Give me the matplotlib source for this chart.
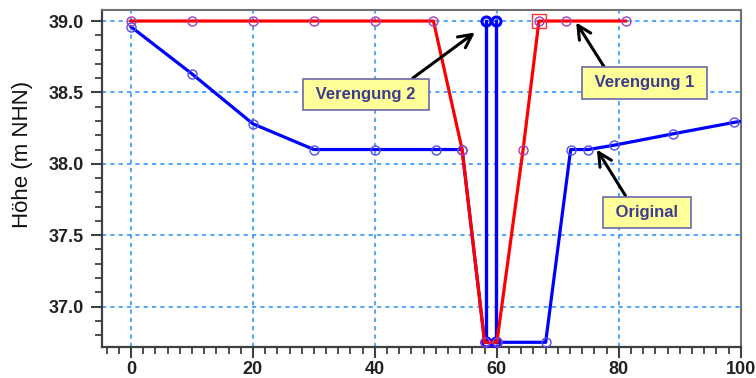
import matplotlib
matplotlib.use("Agg")
import matplotlib.pyplot as plt
from matplotlib.ticker import MultipleLocator, FormatStrFormatter

plt.rcParams['font.family'] = ['Liberation Sans', 'DejaVu Sans']

# Cross-section profiles: station (m) and elevation (m NHN)
orig_x = [0, 10, 20, 30, 40, 50, 54.3, 58.0, 60.0, 68.0, 72.1, 75.0, 79.2, 88.9, 98.9, 102.0]
orig_y = [38.96, 38.63, 38.28, 38.10, 38.10, 38.10, 38.10, 36.75, 36.75, 36.75, 38.10, 38.10, 38.13, 38.21, 38.29, 38.31]

slot_x = [58.3, 58.3, 59.8, 59.8]
slot_y = [39.0, 36.75, 36.75, 39.0]

ver1_x = [0, 10, 20, 30, 40, 49.6, 54.3, 58.0, 60.0, 64.3, 66.9, 71.3, 81.1]
ver1_y = [39.0, 39.0, 39.0, 39.0, 39.0, 39.0, 38.10, 36.75, 36.75, 38.10, 39.0, 39.0, 39.0]

sel_x = [66.9]
sel_y = [39.0]

# Annotation labels: text, arrow target, box centre, arrow attachment on the box
labels = ["Verengung 2", "Verengung 1", "Original"]
tips = [(56.4, 38.92), (73.0, 38.99), (76.4, 38.10)]
boxes = [(38.5, 38.485), (84.2, 38.566), (84.6, 37.66)]
relpos = [(0.82, 1.0), (0.18, 1.0), (0.28, 1.0)]

fig = plt.figure(figsize=(7.56, 3.78), dpi=100)
ax = fig.add_axes([0.1349, 0.082, 0.845, 0.8915])

ax.set_xlim(-4.75, 100)
ax.set_ylim(36.717, 39.077)

ax.xaxis.set_major_locator(MultipleLocator(20))
ax.xaxis.set_minor_locator(MultipleLocator(2))
ax.yaxis.set_major_locator(MultipleLocator(0.5))
ax.yaxis.set_minor_locator(MultipleLocator(0.1))
ax.yaxis.set_major_formatter(FormatStrFormatter('%.1f'))

ax.grid(True, which='major', color='#3399ff', linestyle=(0, (2.5, 2.5)), linewidth=1.2)
ax.set_axisbelow(True)

ax.tick_params(which='major', direction='out', length=8, width=1.5, color='#404040',
               labelsize=13, labelcolor='#222222', pad=5)
ax.tick_params(which='minor', direction='out', length=5, width=1.3, color='#404040')
ax.tick_params(axis='x', which='major', pad=2)
for lab in ax.get_xticklabels() + ax.get_yticklabels():
    lab.set_fontweight('bold')

for side in ['left', 'bottom']:
    ax.spines[side].set_color('#404040')
    ax.spines[side].set_linewidth(1.6)
for side in ['top', 'right']:
    ax.spines[side].set_color('#707070')
    ax.spines[side].set_linewidth(1.5)

ax.plot(orig_x, orig_y, color='#0000ff', linewidth=2.3, marker='o', markersize=6.5,
        markerfacecolor='none', markeredgecolor='#5050f0', markeredgewidth=1.0, zorder=3)
ax.plot(slot_x, slot_y, color='#0000ff', linewidth=2.4, marker='o', markersize=6.5,
        markerfacecolor='none', markeredgecolor='#0000ff', markeredgewidth=2.2, zorder=3)
ax.plot(ver1_x, ver1_y, color='#ff0000', linewidth=2.3, marker='o', markersize=6.5,
        markerfacecolor='none', markeredgecolor='#a040c0', markeredgewidth=1.0, zorder=4)
ax.plot(sel_x, sel_y, linestyle='none', marker='s', markersize=9.5,
        markerfacecolor='none', markeredgecolor='#ff3030', markeredgewidth=1.0, zorder=5)

ax.set_ylabel('Höhe (m NHN)', fontsize=16, color='#111111', va='center')
ax.yaxis.set_label_coords(-0.125, 0.57)

for text, tip, box, rp in zip(labels, tips, boxes, relpos):
    ax.annotate(' ' + text + ' ', xy=tip, xytext=box, xycoords='data', textcoords='data',
                ha='center', va='center', fontsize=12, fontweight='bold', color='#3d3d8f',
                bbox=dict(boxstyle='square,pad=0.5', facecolor='#ffff99',
                          edgecolor='#6a6aa8', linewidth=1.2),
                arrowprops=dict(arrowstyle='->,head_length=0.8,head_width=0.4',
                                color='black', linewidth=2.2, relpos=rp,
                                shrinkA=0, shrinkB=0),
                zorder=6)

fig.savefig('out.png', dpi=100)
